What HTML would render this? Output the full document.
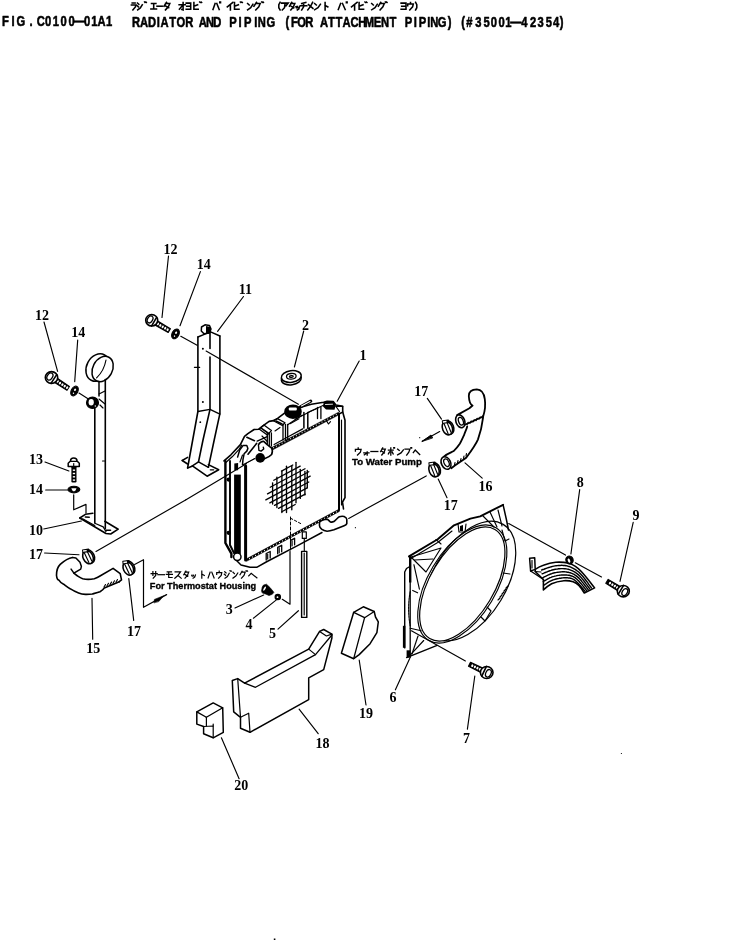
<!DOCTYPE html>
<html><head><meta charset="utf-8"><style>
html,body{margin:0;padding:0;background:#fff;}
body{width:733px;height:940px;overflow:hidden;position:relative;}
svg{position:absolute;left:0;top:0;filter:grayscale(1);}
.lab{font-family:"Liberation Serif",serif;font-weight:bold;fill:#000;stroke:none;}
.ttl{font-family:"Liberation Sans",sans-serif;font-weight:bold;fill:#000;}
.ann{font-family:"Liberation Sans",sans-serif;font-weight:bold;fill:#000;}
</style></head><body>
<svg width="733" height="940" viewBox="0 0 733 940">
<g stroke="#000" fill="none" stroke-linecap="round" stroke-linejoin="round">
<text x="6.62 16.38 26.12 38.88 51.12 60.00 69.75 79.38 89.62 99.62 108.75 118.00 126.88 136.37" y="26.0" font-size="14" text-anchor="middle" class="ttl" stroke="#000" stroke-width="0.55" transform="scale(0.8,1)">FIG.C0100—01A1</text>
<text x="170.00 180.00 190.00 198.00 205.62 216.00 226.00 236.75 253.37 262.50 271.62 291.25 300.12 309.75 319.75 327.37 338.50 359.25 368.00 377.12 386.75 405.12 414.38 423.50 433.12 443.12 452.75 461.88 471.75 481.38 491.00 510.62 519.00 528.25 535.88 542.88 552.75 561.88 578.75 586.75 598.00 608.25 617.25 627.00 635.50 644.87 655.62 666.38 675.75 686.12 695.00 702.12" y="26.9" font-size="14" text-anchor="middle" class="ttl" stroke="#000" stroke-width="0.55" transform="scale(0.8,1)">RADIATORANDPIPING(FORATTACHMENTPIPING)(#35001—42354)</text>
<text x="42.0" y="320.2" font-size="14.0" text-anchor="middle" class="lab">12</text>
<text x="78.2" y="337.2" font-size="14.0" text-anchor="middle" class="lab">14</text>
<text x="170.5" y="254.3" font-size="14.0" text-anchor="middle" class="lab">12</text>
<text x="203.7" y="269.1" font-size="14.0" text-anchor="middle" class="lab">14</text>
<text x="245.3" y="294.2" font-size="14.0" text-anchor="middle" class="lab">11</text>
<text x="305.5" y="329.8" font-size="14.0" text-anchor="middle" class="lab">2</text>
<text x="362.9" y="359.8" font-size="14.0" text-anchor="middle" class="lab">1</text>
<text x="36.0" y="463.8" font-size="14.0" text-anchor="middle" class="lab">13</text>
<text x="36.0" y="494.2" font-size="14.0" text-anchor="middle" class="lab">14</text>
<text x="36.0" y="534.7" font-size="14.0" text-anchor="middle" class="lab">10</text>
<text x="36.0" y="559.0" font-size="14.0" text-anchor="middle" class="lab">17</text>
<text x="93.2" y="653.3" font-size="14.0" text-anchor="middle" class="lab">15</text>
<text x="134.0" y="636.2" font-size="14.0" text-anchor="middle" class="lab">17</text>
<text x="229.2" y="614.3" font-size="14.0" text-anchor="middle" class="lab">3</text>
<text x="248.9" y="629.3" font-size="14.0" text-anchor="middle" class="lab">4</text>
<text x="272.6" y="637.5" font-size="14.0" text-anchor="middle" class="lab">5</text>
<text x="421.3" y="396.4" font-size="14.0" text-anchor="middle" class="lab">17</text>
<text x="450.8" y="509.9" font-size="14.0" text-anchor="middle" class="lab">17</text>
<text x="485.5" y="490.8" font-size="14.0" text-anchor="middle" class="lab">16</text>
<text x="580.2" y="486.6" font-size="14.0" text-anchor="middle" class="lab">8</text>
<text x="635.9" y="520.4" font-size="14.0" text-anchor="middle" class="lab">9</text>
<text x="392.9" y="701.5" font-size="14.0" text-anchor="middle" class="lab">6</text>
<text x="466.4" y="743.2" font-size="14.0" text-anchor="middle" class="lab">7</text>
<text x="366.0" y="717.5" font-size="14.0" text-anchor="middle" class="lab">19</text>
<text x="322.4" y="747.5" font-size="14.0" text-anchor="middle" class="lab">18</text>
<text x="241.2" y="789.8" font-size="14.0" text-anchor="middle" class="lab">20</text>
<line x1="44.0" y1="322.0" x2="57.6" y2="371.3" stroke-width="1.15"/>
<line x1="77.7" y1="340.0" x2="74.7" y2="381.6" stroke-width="1.15"/>
<line x1="168.5" y1="256.0" x2="162.0" y2="317.5" stroke-width="1.15"/>
<line x1="200.4" y1="271.6" x2="180.0" y2="325.7" stroke-width="1.15"/>
<line x1="243.5" y1="296.5" x2="217.6" y2="331.4" stroke-width="1.15"/>
<line x1="303.7" y1="331.0" x2="294.4" y2="367.0" stroke-width="1.15"/>
<line x1="359.2" y1="361.0" x2="337.2" y2="401.2" stroke-width="1.15"/>
<line x1="45.0" y1="462.0" x2="68.9" y2="471.0" stroke-width="1.15"/>
<line x1="45.7" y1="490.0" x2="67.5" y2="490.0" stroke-width="1.15"/>
<line x1="43.7" y1="529.0" x2="81.4" y2="521.0" stroke-width="1.15"/>
<line x1="44.6" y1="553.0" x2="79.0" y2="554.7" stroke-width="1.15"/>
<line x1="92.0" y1="598.3" x2="92.7" y2="639.2" stroke-width="1.15"/>
<line x1="128.8" y1="578.6" x2="133.7" y2="620.4" stroke-width="1.15"/>
<line x1="235.0" y1="608.0" x2="263.7" y2="595.0" stroke-width="1.15"/>
<line x1="253.4" y1="618.2" x2="277.3" y2="599.1" stroke-width="1.15"/>
<line x1="278.0" y1="629.1" x2="298.4" y2="610.7" stroke-width="1.15"/>
<line x1="427.3" y1="398.4" x2="441.5" y2="419.1" stroke-width="1.15"/>
<line x1="438.2" y1="479.1" x2="447.0" y2="497.7" stroke-width="1.15"/>
<line x1="465.0" y1="462.9" x2="482.2" y2="478.1" stroke-width="1.15"/>
<line x1="579.7" y1="489.6" x2="570.9" y2="554.0" stroke-width="1.15"/>
<line x1="633.2" y1="522.4" x2="620.0" y2="581.3" stroke-width="1.15"/>
<line x1="409.7" y1="658.6" x2="395.4" y2="689.8" stroke-width="1.15"/>
<line x1="474.8" y1="676.0" x2="467.4" y2="729.1" stroke-width="1.15"/>
<line x1="359.2" y1="660.0" x2="366.0" y2="705.0" stroke-width="1.15"/>
<line x1="299.1" y1="709.1" x2="318.2" y2="733.7" stroke-width="1.15"/>
<line x1="221.4" y1="737.8" x2="239.1" y2="778.7" stroke-width="1.15"/>
<line x1="79.0" y1="393.0" x2="88.0" y2="398.7" stroke-width="1.15"/>
<line x1="180.8" y1="336.3" x2="197.1" y2="345.3" stroke-width="1.15"/>
<line x1="206.1" y1="351.0" x2="298.4" y2="404.2" stroke-width="1.15"/>
<line x1="96.0" y1="551.4" x2="185.6" y2="500.0" stroke-width="1.15"/>
<line x1="185.6" y1="500.0" x2="255.1" y2="458.6" stroke-width="1.15"/>
<line x1="134.6" y1="564.5" x2="143.5" y2="559.8" stroke-width="1.15"/>
<line x1="426.2" y1="475.9" x2="348.7" y2="518.4" stroke-width="1.15"/>
<line x1="465.4" y1="661.0" x2="411.4" y2="630.8" stroke-width="1.15"/>
<line x1="508.7" y1="523.5" x2="565.5" y2="555.1" stroke-width="1.15"/>
<line x1="575.3" y1="562.8" x2="601.5" y2="577.0" stroke-width="1.15"/>
<polyline points="143.5,560.0 143.5,607.3 166.6,594.6" stroke-width="1.2" fill="none"/>
<polygon points="154,602.6 154.4,599.4 163.8,595.7 159,601.3" fill="#000" stroke="#000" stroke-width="0.6"/>
<line x1="439.7" y1="431.6" x2="422.2" y2="441.3" stroke-width="1.15"/>
<polygon points="422.2,441.3 431,435 432.5,437.6" fill="#000" stroke="#000" stroke-width="0.9"/>
<circle cx="419.7" cy="437.7" r="0.6" fill="#000" stroke="none"/>
<circle cx="621.4" cy="753.5" r="0.6" fill="#000" stroke="none"/>
<rect x="273.8" y="938.5" width="1.6" height="1.5" fill="#000" stroke="none"/>
<text x="149.8" y="588.6" font-size="9.6" class="ann" stroke="#000" stroke-width="0.35" textLength="106.4" lengthAdjust="spacingAndGlyphs">For Thermostat Housing</text>
<text x="352" y="465" font-size="9.6" class="ann" stroke="#000" stroke-width="0.35" textLength="69.9" lengthAdjust="spacingAndGlyphs">To Water Pump</text>
<ellipse cx="97.9" cy="367.6" rx="11.3" ry="14.3" transform="rotate(28 97.9 367.6)" stroke-width="1.5" fill="#fff"/>
<ellipse cx="102.6" cy="369.0" rx="9.8" ry="13.3" transform="rotate(28 102.6 369.0)" stroke-width="1.5" fill="#fff"/>
<path d="M106,360 Q104,371 96.6,377.8" stroke-width="1.15" fill="none" />
<line x1="99.0" y1="381.5" x2="99.0" y2="396.0" stroke-width="1.5"/>
<line x1="105.3" y1="379.5" x2="105.3" y2="528.5" stroke-width="1.6"/>
<line x1="94.8" y1="405.0" x2="94.8" y2="522.7" stroke-width="1.6"/>
<line x1="102.5" y1="461.0" x2="104.5" y2="461.0" stroke-width="1.15"/>
<polyline points="99.0,394.0 105.0,391.0" stroke-width="1.15" fill="none"/>
<polyline points="99.0,399.0 105.0,404.0" stroke-width="1.15" fill="none"/>
<line x1="100.0" y1="405.0" x2="103.0" y2="408.0" stroke-width="1.15"/>
<ellipse cx="92.5" cy="402.8" rx="6.0" ry="5.7" transform="rotate(0 92.5 402.8)" stroke-width="1.15" fill="#000"/>
<ellipse cx="91.2" cy="402.2" rx="2.6" ry="3.3" transform="rotate(0 91.2 402.2)" stroke-width="0" fill="#fff"/>
<circle cx="95.3" cy="406" r="0.7" fill="#fff" stroke="none"/>
<polyline points="79.8,518.0 85.4,514.3 92.9,513.3" stroke-width="1.5" fill="none"/>
<polyline points="104.8,521.3 118.2,529.2 110.7,534.0 106.0,533.5 79.8,518.0" stroke-width="1.6" fill="none"/>
<polyline points="82.6,518.8 94.8,525.5" stroke-width="1.15" fill="none"/>
<polyline points="94.8,523.2 103.2,526.9 106.0,531.6" stroke-width="1.2" fill="none"/>
<line x1="85.4" y1="517.0" x2="89.2" y2="517.3" stroke-width="1.6"/>
<line x1="106.0" y1="530.2" x2="110.5" y2="530.2" stroke-width="1.6"/>
<polyline points="73.7,494.8 73.7,509.8 86.0,504.4 86.0,513.0" stroke-width="1.2" fill="none"/>
<polygon points="52.7,381.3 67.0,390.3 69.4,386.5 55.5,377.1" stroke-width="1.15" fill="#000"/>
<ellipse cx="57.7" cy="381.5" rx="1.05" ry="1.4" transform="rotate(33 57.7 381.5)" fill="#fff" stroke="none"/>
<ellipse cx="60.0" cy="383.1" rx="1.05" ry="1.4" transform="rotate(33 60.0 383.1)" fill="#fff" stroke="none"/>
<ellipse cx="62.4" cy="384.6" rx="1.05" ry="1.4" transform="rotate(33 62.4 384.6)" fill="#fff" stroke="none"/>
<ellipse cx="64.7" cy="386.1" rx="1.05" ry="1.4" transform="rotate(33 64.7 386.1)" fill="#fff" stroke="none"/>
<ellipse cx="67.1" cy="387.7" rx="1.05" ry="1.4" transform="rotate(33 67.1 387.7)" fill="#fff" stroke="none"/>
<ellipse cx="51.5" cy="377.5" rx="6.2" ry="5.9" transform="rotate(0 51.5 377.5)" stroke-width="1.6" fill="#fff"/>
<ellipse cx="49.9" cy="376.5" rx="2.6" ry="3.8" transform="rotate(33 49.9 376.5)" fill="none" stroke="#000" stroke-width="1.3"/>
<path d="M51.0,383.4 L56.7,374.6" stroke="#000" stroke-width="1.6"/>
<ellipse cx="74.5" cy="391.0" rx="3.3" ry="5.2" transform="rotate(28 74.5 391.0)" stroke-width="1.15" fill="#000"/>
<ellipse cx="75.1" cy="389.8" rx="1.0" ry="1.3" transform="rotate(28 75.1 389.8)" stroke-width="0" fill="#fff"/>
<ellipse cx="73.5" cy="393.2" rx="0.7" ry="0.8" transform="rotate(28 73.5 393.2)" stroke-width="0" fill="#fff"/>
<rect x="71.4" y="466" width="5.1" height="16.4" rx="1.2" fill="#000" stroke="none"/>
<rect x="72.8" y="469.5" width="2.3" height="1.4" fill="#fff" stroke="none"/>
<rect x="72.8" y="472.8" width="2.3" height="1.4" fill="#fff" stroke="none"/>
<rect x="72.8" y="476.1" width="2.3" height="1.4" fill="#fff" stroke="none"/>
<rect x="72.8" y="479.4" width="2.3" height="1.4" fill="#fff" stroke="none"/>
<path d="M68.2,466.6 L68.2,463.2 L70.5,461 C70.5,458.5 72,458 73.7,458 C75.5,458 77,458.5 77,461 L79.3,463.2 L79.3,466.6 Z" stroke-width="1.5" fill="#fff" />
<line x1="70.5" y1="461.3" x2="77.0" y2="461.3" stroke-width="1.15"/>
<line x1="73.7" y1="463.5" x2="73.7" y2="466.0" stroke-width="1.15"/>
<ellipse cx="73.9" cy="489.5" rx="5.9" ry="3.3" transform="rotate(0 73.9 489.5)" stroke-width="1.15" fill="#000"/>
<path d="M71.3,488.3 L76.5,488.3 L75.5,490.5 L73.9,491.5 L72.3,490.5 Z" fill="#fff" stroke="none"/>
<ellipse cx="89.3" cy="556.5" rx="4.9" ry="7.0" transform="rotate(-25 89.3 556.5)" stroke-width="1.5" fill="#fff"/>
<ellipse cx="88.0" cy="557.1" rx="4.9" ry="7.0" transform="rotate(-25 88.0 557.1)" stroke-width="1.6" fill="#fff"/>
<line x1="84.4" y1="552.9" x2="88.9" y2="562.5" stroke-width="1.15"/>
<line x1="87.3" y1="551.6" x2="91.8" y2="561.1" stroke-width="1.15"/>
<rect x="82.1" y="549.0" width="7.2" height="3.6" rx="0.6" transform="rotate(-7.5 85.7 550.8)" fill="#000" stroke="none"/>
<rect x="83.1" y="550.0" width="3.6" height="1.5" transform="rotate(-7.5 85.7 550.8)" fill="#fff" stroke="none"/>
<path d="M72.5,557.5 C69,558 64,561 60.2,564.4 C57.5,567 56.5,571 56.5,575.3 C56.8,578 58,580 58.9,580.1 C60,582 62,583.5 63.6,584.2 C66,586 68,587.8 70.5,588.9 C73,590.5 76,592 78.6,593 C81,594 83,594.3 85.5,594.4 C88,594.5 90,594.3 92.3,594 C96,593 98,592.5 100,591.7 C103,590 104,588.5 104.3,587.9 L119.3,581.7" stroke-width="1.6" fill="none" />
<path d="M72.5,557.5 L75.9,557.9 L80,562.3 L81.4,566.4 L80.7,569.1 L77.3,571.2 L73.9,573.2 L71.1,569.1" stroke-width="1.5" fill="none" />
<path d="M73.9,573.2 C75.5,574.5 77,575.8 78.6,576.6 C80,577.5 81.5,578.3 82.7,578.7 C85,579.3 86.5,579.4 88.2,579.4 C90.5,579.3 92.5,579 94.3,578.7 C96.5,578 98.5,577 100,576 L113.1,568.4 L120.2,573.7 L121.5,579.9 L119.3,581.7" stroke-width="1.6" fill="none" />
<path d="M104,587 l1.5,-2.5 M107,585.8 l1.5,-2.5 M110,584.6 l1.5,-2.5 M113,583.3 l1.5,-2.5 M116,582 l1.5,-2.5" stroke-width="1.15" fill="none" />
<ellipse cx="129.6" cy="567.8" rx="4.9" ry="7.0" transform="rotate(-25 129.6 567.8)" stroke-width="1.5" fill="#fff"/>
<ellipse cx="128.3" cy="568.4" rx="4.9" ry="7.0" transform="rotate(-25 128.3 568.4)" stroke-width="1.6" fill="#fff"/>
<line x1="124.7" y1="564.2" x2="129.2" y2="573.8" stroke-width="1.15"/>
<line x1="127.6" y1="562.9" x2="132.1" y2="572.4" stroke-width="1.15"/>
<rect x="122.4" y="560.3" width="7.2" height="3.6" rx="0.6" transform="rotate(-7.5 126.0 562.1)" fill="#000" stroke="none"/>
<rect x="123.4" y="561.3" width="3.6" height="1.5" transform="rotate(-7.5 126.0 562.1)" fill="#fff" stroke="none"/>
<polyline points="197.9,337.0 197.9,411.5 192.7,440.0 187.6,468.0" stroke-width="1.6" fill="none"/>
<polyline points="210.0,330.0 210.0,348.5" stroke-width="1.6" fill="none"/>
<polyline points="210.0,357.0 210.0,409.4 203.0,440.0 198.5,461.8" stroke-width="1.6" fill="none"/>
<polyline points="219.9,336.0 219.9,413.6 214.2,440.0 208.4,467.3" stroke-width="1.6" fill="none"/>
<polyline points="197.9,337.0 205.5,333.8 210.0,332.2" stroke-width="1.4" fill="none"/>
<polyline points="210.0,331.7 219.9,336.0" stroke-width="1.4" fill="none"/>
<polyline points="197.9,411.5 210.0,409.4 219.9,414.1" stroke-width="1.3" fill="none"/>
<circle cx="202.9" cy="348.7" r="1" fill="#000" stroke="none"/>
<circle cx="202.9" cy="401.9" r="1" fill="#000" stroke="none"/>
<circle cx="200.3" cy="422.2" r="0.9" fill="#000" stroke="none"/>
<line x1="194.4" y1="367.3" x2="199.7" y2="367.3" stroke-width="1.2"/>
<polyline points="192.4,465.9 198.5,461.8 208.4,467.3" stroke-width="1.5" fill="none"/>
<polyline points="208.4,464.6 218.7,469.7 207.1,476.2 192.4,465.9" stroke-width="1.6" fill="none"/>
<polyline points="182.2,460.5 187.6,457.4" stroke-width="1.5" fill="none"/>
<polyline points="182.2,460.5 187.6,464.0" stroke-width="1.5" fill="none"/>
<polyline points="187.6,468.0 192.0,466.3" stroke-width="1.5" fill="none"/>
<line x1="210.3" y1="469.8" x2="213.7" y2="469.8" stroke-width="1.3"/>
<polygon points="201.5,327 205,324.8 209.5,325.5 211,329 209.5,333 204,333.8 201.3,331" fill="#fff" stroke-width="1.5"/>
<path d="M206,326 L210.5,327 L211,331 L208,334 L206,333 Z" fill="#000" stroke="none"/>
<polygon points="153.0,324.0 168.2,332.5 170.4,328.7 155.6,319.7" stroke-width="1.15" fill="#000"/>
<ellipse cx="157.9" cy="323.9" rx="1.05" ry="1.4" transform="rotate(30 157.9 323.9)" fill="#fff" stroke="none"/>
<ellipse cx="160.3" cy="325.4" rx="1.05" ry="1.4" transform="rotate(30 160.3 325.4)" fill="#fff" stroke="none"/>
<ellipse cx="162.7" cy="326.8" rx="1.05" ry="1.4" transform="rotate(30 162.7 326.8)" fill="#fff" stroke="none"/>
<ellipse cx="165.2" cy="328.2" rx="1.05" ry="1.4" transform="rotate(30 165.2 328.2)" fill="#fff" stroke="none"/>
<ellipse cx="167.6" cy="329.6" rx="1.05" ry="1.4" transform="rotate(30 167.6 329.6)" fill="#fff" stroke="none"/>
<ellipse cx="151.7" cy="320.3" rx="6.0" ry="5.7" transform="rotate(0 151.7 320.3)" stroke-width="1.6" fill="#fff"/>
<ellipse cx="150.1" cy="319.4" rx="2.5" ry="3.7" transform="rotate(30 150.1 319.4)" fill="none" stroke="#000" stroke-width="1.3"/>
<path d="M151.5,326.1 L156.6,317.3" stroke="#000" stroke-width="1.6"/>
<ellipse cx="175.5" cy="333.9" rx="3.4" ry="5.2" transform="rotate(28 175.5 333.9)" stroke-width="1.15" fill="#000"/>
<ellipse cx="176.1" cy="332.7" rx="1.0" ry="1.3" transform="rotate(28 176.1 332.7)" stroke-width="0" fill="#fff"/>
<ellipse cx="174.5" cy="336.1" rx="0.7" ry="0.8" transform="rotate(28 174.5 336.1)" stroke-width="0" fill="#fff"/>
<polygon points="247.0,463.0 339.0,414.0 339.0,509.5 247.0,558.5" stroke-width="0" fill="#fff"/>
<polyline points="225.4,461.1 225.4,543.0 231.4,553.7 231.4,557.0" stroke-width="2.4" fill="none"/>
<polyline points="230.0,461.0 230.0,545.0 234.0,553.0" stroke-width="1.9" fill="none"/>
<rect x="234.1" y="474.6" width="6.7" height="81" fill="#000" stroke="none"/>
<line x1="245.6" y1="466.0" x2="245.6" y2="560.0" stroke-width="3.0"/>
<circle cx="228.6" cy="479.6" r="2.1" fill="#000" stroke="none"/>
<circle cx="228.6" cy="532.8" r="2.1" fill="#000" stroke="none"/>
<ellipse cx="237.3" cy="556.8" rx="3.7" ry="3.7" transform="rotate(0 237.3 556.8)" stroke-width="1.5" fill="#fff"/>
<polyline points="224.0,460.9 230.9,454.8 240.4,444.6 244.5,436.4 247.9,433.6 254.1,429.5 258.8,429.2 263.9,425.1 269.1,421.4 273.6,420.6 277.6,418.4 284.2,413.3 289.1,411.6" stroke-width="1.6" fill="none"/>
<polyline points="300.0,407.5 311.4,404.3 323.6,402.2 327.1,401.2 333.2,401.5 335.9,405.0 342.7,406.3 342.7,412.1 339.0,414.0" stroke-width="1.6" fill="none"/>
<path d="M262,452.6 L338.5,412.2 L339,414.8 L262.5,455.3 Z" fill="#000" stroke="#000" stroke-width="0.5"/>
<rect x="264.5" y="451.7" width="1" height="1" fill="#fff" stroke="none"/>
<rect x="267.4" y="450.2" width="1" height="1" fill="#fff" stroke="none"/>
<rect x="270.2" y="448.7" width="1" height="1" fill="#fff" stroke="none"/>
<rect x="273.1" y="447.2" width="1" height="1" fill="#fff" stroke="none"/>
<rect x="275.9" y="445.7" width="1" height="1" fill="#fff" stroke="none"/>
<rect x="278.8" y="444.2" width="1" height="1" fill="#fff" stroke="none"/>
<rect x="281.6" y="442.7" width="1" height="1" fill="#fff" stroke="none"/>
<rect x="284.4" y="441.2" width="1" height="1" fill="#fff" stroke="none"/>
<rect x="287.3" y="439.7" width="1" height="1" fill="#fff" stroke="none"/>
<rect x="290.1" y="438.2" width="1" height="1" fill="#fff" stroke="none"/>
<rect x="293.0" y="436.7" width="1" height="1" fill="#fff" stroke="none"/>
<rect x="295.9" y="435.2" width="1" height="1" fill="#fff" stroke="none"/>
<rect x="298.7" y="433.7" width="1" height="1" fill="#fff" stroke="none"/>
<rect x="301.6" y="432.2" width="1" height="1" fill="#fff" stroke="none"/>
<rect x="304.4" y="430.7" width="1" height="1" fill="#fff" stroke="none"/>
<rect x="307.2" y="429.2" width="1" height="1" fill="#fff" stroke="none"/>
<rect x="310.1" y="427.7" width="1" height="1" fill="#fff" stroke="none"/>
<rect x="312.9" y="426.1" width="1" height="1" fill="#fff" stroke="none"/>
<rect x="315.8" y="424.6" width="1" height="1" fill="#fff" stroke="none"/>
<rect x="318.6" y="423.1" width="1" height="1" fill="#fff" stroke="none"/>
<rect x="321.5" y="421.6" width="1" height="1" fill="#fff" stroke="none"/>
<rect x="324.4" y="420.1" width="1" height="1" fill="#fff" stroke="none"/>
<rect x="327.2" y="418.6" width="1" height="1" fill="#fff" stroke="none"/>
<rect x="330.1" y="417.1" width="1" height="1" fill="#fff" stroke="none"/>
<rect x="332.9" y="415.6" width="1" height="1" fill="#fff" stroke="none"/>
<rect x="335.8" y="414.1" width="1" height="1" fill="#fff" stroke="none"/>
<polyline points="274.1,444.6 287.7,437.0 302.7,428.9" stroke-width="1.2" fill="none"/>
<polyline points="287.7,424.8 302.0,415.2" stroke-width="1.2" fill="none"/>
<line x1="290.5" y1="423.6" x2="299.0" y2="418.8" stroke-width="1.15"/>
<polyline points="295.0,419.3 304.5,414.5" stroke-width="1.15" fill="none"/>
<polyline points="304.5,414.5 311.0,411.0 323.0,405.5 333.0,404.0" stroke-width="1.15" fill="none"/>
<polyline points="259.1,428.9 263.9,425.1 271.4,430.6 267.3,435.0 259.1,428.9" stroke-width="1.3" fill="none"/>
<line x1="261.5" y1="428.4" x2="268.0" y2="433.0" stroke-width="1.6"/>
<line x1="267.3" y1="433.0" x2="267.3" y2="446.0" stroke-width="1.3"/>
<line x1="269.3" y1="433.0" x2="269.3" y2="446.0" stroke-width="1.3"/>
<line x1="271.4" y1="433.0" x2="271.4" y2="446.0" stroke-width="1.3"/>
<line x1="262.0" y1="436.0" x2="267.3" y2="441.5" stroke-width="1.15"/>
<polyline points="273.4,420.7 277.5,418.6 285.0,422.7 282.3,425.5 273.4,420.7" stroke-width="1.3" fill="none"/>
<line x1="276.0" y1="421.0" x2="282.0" y2="424.0" stroke-width="1.6"/>
<line x1="283.0" y1="424.5" x2="283.0" y2="440.0" stroke-width="1.3"/>
<line x1="285.5" y1="424.5" x2="285.5" y2="440.0" stroke-width="1.3"/>
<line x1="287.7" y1="424.5" x2="287.7" y2="440.0" stroke-width="1.3"/>
<line x1="275.0" y1="431.0" x2="280.0" y2="427.5" stroke-width="1.15"/>
<line x1="303.9" y1="412.5" x2="303.9" y2="428.0" stroke-width="1.5"/>
<line x1="307.8" y1="412.5" x2="307.8" y2="428.0" stroke-width="1.5"/>
<line x1="317.5" y1="407.5" x2="317.5" y2="418.5" stroke-width="1.3"/>
<line x1="320.9" y1="407.5" x2="320.9" y2="418.5" stroke-width="1.3"/>
<line x1="308.0" y1="412.5" x2="318.0" y2="408.0" stroke-width="1.15"/>
<polyline points="326.4,420.6 328.5,424.0 330.5,421.6" stroke-width="1.15" fill="none"/>
<polyline points="226.1,462.3 232.2,456.8 239.1,449.3 241.8,445.2" stroke-width="1.2" fill="none"/>
<path d="M237.6,457.1 L239.7,450 L243,445.6 L246.8,445.6 L247.9,448.4 L246.8,451.1 L244.1,453.8 L243,459.3 L242.5,464.7" stroke-width="1.5" fill="none" />
<line x1="240.0" y1="462.0" x2="242.5" y2="455.0" stroke-width="1.15"/>
<path d="M246.8,437.2 L254.5,440.7" stroke-width="1.5" fill="none" />
<path d="M248,454.2 L256.7,443.3" stroke-width="1.6" fill="none" />
<path d="M257.2,441.1 L267.2,436.7" stroke-width="1.4" fill="none" />
<path d="M258.5,444.8 C259.5,442.5 261,441.5 263.7,441.3 L267.2,444.6 L271.6,448.1 C272.7,450 272.7,452 271.6,454.6 C270,456.5 268,457.5 265,458.5 L262,459.5" stroke-width="1.6" fill="#fff" />
<path d="M258.5,445.5 L258.9,450.3 L261.1,451.1 L263.7,449 L263.3,447.2" stroke-width="1.4" fill="none" />
<ellipse cx="260.2" cy="457.9" rx="4.8" ry="4.9" fill="#000" stroke="none"/>
<line x1="259.2" y1="454.8" x2="261.3" y2="457.5" stroke-width="1.15"/>
<line x1="243.0" y1="464.7" x2="254.5" y2="458.7" stroke-width="1.2"/>
<path d="M234.3,463.5 L238.1,463.1 L238.1,470.2 L234.3,470.2 Z" fill="#000" stroke="none"/>
<ellipse cx="293" cy="411.7" rx="8.8" ry="7.2" fill="#000" stroke="none"/>
<rect x="288.8" y="407.6" width="8" height="3" rx="1" fill="#fff" stroke="none"/>
<line x1="286.8" y1="409.0" x2="287.2" y2="411.0" stroke-width="1.15"/>
<path d="M300.5,406.8 L310.7,401.2" stroke-width="3.2" fill="none" />
<path d="M301.5,406 L310,401.6" stroke="#fff" stroke-width="1.1"/>
<path d="M323.6,402.2 L327.1,401 L333.2,401.3 L335.9,405 L334.5,409.7 L326,409.5 L323,406.5 Z" fill="#000" stroke="none"/>
<path d="M325.5,404.5 L332.5,404.2" stroke-width="0.9" fill="none" stroke="#fff"/>
<polyline points="335.9,406.3 342.7,406.3" stroke-width="1.3" fill="none"/>
<polyline points="336.0,406.5 339.5,411.5" stroke-width="1.15" fill="none"/>
<line x1="339.0" y1="413.5" x2="339.0" y2="510.0" stroke-width="2.0"/>
<line x1="341.5" y1="420.0" x2="341.5" y2="505.0" stroke-width="1.15"/>
<path d="M342.7,412 L345,420.3 L345,497.7 L342.5,502 L343.5,509" stroke-width="1.6" fill="none" />
<path d="M246.6,558.8 L339,509.2 L339.3,511.5 L246.9,561.1 Z" fill="#000" stroke="#000" stroke-width="0.6"/>
<rect x="249.0" y="558.1" width="1" height="1" fill="#fff" stroke="none"/>
<rect x="252.0" y="556.5" width="1" height="1" fill="#fff" stroke="none"/>
<rect x="255.0" y="554.9" width="1" height="1" fill="#fff" stroke="none"/>
<rect x="258.0" y="553.3" width="1" height="1" fill="#fff" stroke="none"/>
<rect x="261.0" y="551.7" width="1" height="1" fill="#fff" stroke="none"/>
<rect x="264.0" y="550.1" width="1" height="1" fill="#fff" stroke="none"/>
<rect x="267.0" y="548.4" width="1" height="1" fill="#fff" stroke="none"/>
<rect x="270.0" y="546.8" width="1" height="1" fill="#fff" stroke="none"/>
<rect x="273.0" y="545.2" width="1" height="1" fill="#fff" stroke="none"/>
<rect x="276.0" y="543.6" width="1" height="1" fill="#fff" stroke="none"/>
<rect x="279.0" y="542.0" width="1" height="1" fill="#fff" stroke="none"/>
<rect x="282.0" y="540.4" width="1" height="1" fill="#fff" stroke="none"/>
<rect x="285.0" y="538.8" width="1" height="1" fill="#fff" stroke="none"/>
<rect x="288.0" y="537.2" width="1" height="1" fill="#fff" stroke="none"/>
<rect x="291.0" y="535.6" width="1" height="1" fill="#fff" stroke="none"/>
<rect x="294.0" y="533.9" width="1" height="1" fill="#fff" stroke="none"/>
<rect x="297.0" y="532.3" width="1" height="1" fill="#fff" stroke="none"/>
<rect x="300.0" y="530.7" width="1" height="1" fill="#fff" stroke="none"/>
<rect x="303.0" y="529.1" width="1" height="1" fill="#fff" stroke="none"/>
<rect x="306.0" y="527.5" width="1" height="1" fill="#fff" stroke="none"/>
<rect x="309.0" y="525.9" width="1" height="1" fill="#fff" stroke="none"/>
<rect x="312.0" y="524.3" width="1" height="1" fill="#fff" stroke="none"/>
<rect x="315.0" y="522.7" width="1" height="1" fill="#fff" stroke="none"/>
<rect x="318.0" y="521.1" width="1" height="1" fill="#fff" stroke="none"/>
<rect x="321.0" y="519.4" width="1" height="1" fill="#fff" stroke="none"/>
<rect x="324.0" y="517.8" width="1" height="1" fill="#fff" stroke="none"/>
<rect x="327.0" y="516.2" width="1" height="1" fill="#fff" stroke="none"/>
<rect x="330.0" y="514.6" width="1" height="1" fill="#fff" stroke="none"/>
<rect x="333.0" y="513.0" width="1" height="1" fill="#fff" stroke="none"/>
<rect x="336.0" y="511.4" width="1" height="1" fill="#fff" stroke="none"/>
<polyline points="237.0,561.0 241.0,565.0 250.0,567.3 256.7,567.3 266.2,562.0 298.0,545.3 322.0,532.5" stroke-width="1.5" fill="none"/>
<polyline points="266.2,560.0 266.2,553.5 270.2,551.5 270.2,558.0" stroke-width="1.3" fill="none"/>
<line x1="267.7" y1="554.0" x2="267.7" y2="559.0" stroke-width="1.15"/>
<polyline points="277.7,553.8 277.7,547.3 281.7,545.3 281.7,551.8" stroke-width="1.3" fill="none"/>
<line x1="279.2" y1="547.8" x2="279.2" y2="552.8" stroke-width="1.15"/>
<polyline points="290.6,546.8 290.6,540.3 294.6,538.3 294.6,544.8" stroke-width="1.3" fill="none"/>
<line x1="292.1" y1="540.8" x2="292.1" y2="545.8" stroke-width="1.15"/>
<path d="M319.5,522.3 C320.5,521 321.5,520.5 322.3,520.2 C324,519.5 325.5,519.2 327.1,519.2 C328.5,519.5 329.5,521.5 330.5,522 C331.5,522.3 333,522 333.9,521.6 C336,520 337.5,517.8 339.3,516.8 C341,516.2 342.8,516.2 344.1,516.5 C345.8,517.3 346.8,518.5 346.8,519.6 L346.8,523.6 C346.3,524.8 345.3,525.3 344.1,525.7 L333.9,529.8 C331.5,530.6 329.3,531.2 327.1,531.2 C325,531 323,530.2 321.6,529.1 C320.3,528 319.5,527 319.5,525.7 Z" stroke-width="1.6" fill="#fff" />
<circle cx="355.4" cy="527.7" r="0.6" fill="#000" stroke="none"/>
<line x1="272.6" y1="482.8" x2="272.6" y2="504.1" stroke-width="1.35"/>
<line x1="276.9" y1="477.1" x2="276.9" y2="507.6" stroke-width="1.35"/>
<line x1="281.9" y1="471.1" x2="281.9" y2="512.6" stroke-width="1.35"/>
<line x1="286.5" y1="466.2" x2="286.5" y2="512.6" stroke-width="1.35"/>
<line x1="291.8" y1="466.2" x2="291.8" y2="509.8" stroke-width="1.35"/>
<line x1="296.0" y1="462.3" x2="296.0" y2="502.7" stroke-width="1.35"/>
<line x1="300.3" y1="469.3" x2="300.3" y2="498.4" stroke-width="1.35"/>
<line x1="304.9" y1="471.5" x2="304.9" y2="494.9" stroke-width="1.35"/>
<line x1="307.3" y1="470.4" x2="307.3" y2="487.8" stroke-width="1.35"/>
<line x1="281.5" y1="471.1" x2="292.8" y2="465.0" stroke-width="1.3"/>
<line x1="273.8" y1="480.3" x2="300.2" y2="466.1" stroke-width="1.3"/>
<line x1="270.2" y1="487.3" x2="305.0" y2="468.7" stroke-width="1.3"/>
<line x1="267.5" y1="493.9" x2="308.8" y2="471.8" stroke-width="1.3"/>
<line x1="265.8" y1="499.9" x2="310.2" y2="476.1" stroke-width="1.3"/>
<line x1="269.8" y1="502.9" x2="308.8" y2="482.0" stroke-width="1.3"/>
<line x1="274.5" y1="505.4" x2="307.2" y2="487.9" stroke-width="1.3"/>
<line x1="278.5" y1="508.4" x2="305.2" y2="494.1" stroke-width="1.3"/>
<line x1="281.8" y1="511.7" x2="295.2" y2="504.5" stroke-width="1.3"/>
<path d="M290.5,517 L290.5,551" stroke-dasharray="3,2" stroke-width="1"/>
<path d="M290.5,518.2 L302.3,524.4" stroke-dasharray="2.5,2" stroke-width="1"/>
<rect x="302.3" y="531.9" width="4" height="6.5" fill="#fff" stroke-width="1.2"/>
<line x1="304.3" y1="538.4" x2="304.3" y2="551.0" stroke-width="1.15"/>
<rect x="301.6" y="551.4" width="5.2" height="66" fill="#fff" stroke-width="1.4"/>
<line x1="304.2" y1="553.0" x2="304.2" y2="615.0" stroke-width="1.15"/>
<polyline points="282.3,599.3 290.0,604.2 290.0,551.4" stroke-width="1.2" fill="none"/>
<path d="M261.5,591 L262.2,587 L263.5,585 L266.5,584.2 L270,587.5 L273.9,592.3 L272.3,594.3 L269,595.6 L266,594.2 L262.5,593 Z" fill="#000" stroke="#000" stroke-width="0.6"/>
<ellipse cx="264.6" cy="588.6" rx="0.9" ry="2.4" transform="rotate(30 264.6 588.6)" fill="#fff" stroke="none"/>
<ellipse cx="277.8" cy="597.0" rx="2.7" ry="2.6" transform="rotate(0 277.8 597.0)" stroke-width="1.15" fill="#000"/>
<circle cx="277.5" cy="597.2" r="0.9" fill="#fff" stroke="none"/>
<ellipse cx="291.3" cy="379.0" rx="10.0" ry="5.8" transform="rotate(-8 291.3 379.0)" stroke-width="1.5" fill="#fff"/>
<ellipse cx="291.3" cy="376.5" rx="10.0" ry="5.8" transform="rotate(-8 291.3 376.5)" stroke-width="1.5" fill="#fff"/>
<ellipse cx="291.3" cy="376.3" rx="4.8" ry="2.8" transform="rotate(-5 291.3 376.3)" stroke-width="1.3" fill="none"/>
<ellipse cx="291.3" cy="376.5" rx="2.0" ry="0.9" transform="rotate(-5 291.3 376.5)" stroke-width="1.15" fill="none"/>
<ellipse cx="448.7" cy="427.6" rx="4.9" ry="7.0" transform="rotate(-22 448.7 427.6)" stroke-width="1.5" fill="#fff"/>
<ellipse cx="447.4" cy="428.1" rx="4.9" ry="7.0" transform="rotate(-22 447.4 428.1)" stroke-width="1.6" fill="#fff"/>
<line x1="444.1" y1="423.7" x2="448.1" y2="433.6" stroke-width="1.15"/>
<line x1="447.1" y1="422.6" x2="451.0" y2="432.3" stroke-width="1.15"/>
<rect x="441.9" y="419.9" width="7.2" height="3.6" rx="0.6" transform="rotate(-6.6 445.5 421.7)" fill="#000" stroke="none"/>
<rect x="442.9" y="420.9" width="3.6" height="1.5" transform="rotate(-6.6 445.5 421.7)" fill="#fff" stroke="none"/>
<ellipse cx="435.3" cy="469.6" rx="4.9" ry="7.0" transform="rotate(-22 435.3 469.6)" stroke-width="1.5" fill="#fff"/>
<ellipse cx="434.0" cy="470.1" rx="4.9" ry="7.0" transform="rotate(-22 434.0 470.1)" stroke-width="1.6" fill="#fff"/>
<line x1="430.7" y1="465.7" x2="434.7" y2="475.6" stroke-width="1.15"/>
<line x1="433.7" y1="464.6" x2="437.6" y2="474.3" stroke-width="1.15"/>
<rect x="428.5" y="461.9" width="7.2" height="3.6" rx="0.6" transform="rotate(-6.6 432.1 463.7)" fill="#000" stroke="none"/>
<rect x="429.5" y="462.9" width="3.6" height="1.5" transform="rotate(-6.6 432.1 463.7)" fill="#fff" stroke="none"/>
<path d="M457.1,415.1 L469.4,408.2 L472.6,405.5 C470,404.5 469,400 468.8,396 C468.8,392 471,389.5 476.8,389.4 C481,389.6 484,393 484.8,399.1 C485.5,404 485.3,409.8 483.2,416.2 C482.5,422 482.1,427.9 477.9,439.6 C476,444 472.6,449.1 466.2,457.7 C462,461 456.6,464 451.3,468.3" stroke-width="1.8" fill="none" />
<path d="M443.8,456.6 C447,454 451,452.5 453.4,451.3 C456,449 458,446.5 459.8,443.8 C461.5,441 463,437 464,435.3 C465,432 466.5,429.5 467.2,426.5" stroke-width="1.8" fill="none" />
<path d="M465.1,424.7 C470,422.5 478,419 483.2,416.2" stroke-width="1.7" fill="none" />
<path d="M467,424.5 l1.2,-2.2 M470,423.2 l1.2,-2.2 M473,421.9 l1.2,-2.2 M476,420.6 l1.2,-2.2 M479,419.2 l1.2,-2.2 M482,417.8 l1.2,-2.2" stroke-width="1.2" fill="none" />
<path d="M454.5,465 l0.5,-2.5 M457.5,463 l0.5,-2.5 M460.5,461 l0.5,-2.5 M463.5,458.5 l0.5,-2.5 M466,456 l0.5,-2.5" stroke-width="1.2" fill="none" />
<ellipse cx="460.3" cy="421.3" rx="4.4" ry="6.6" transform="rotate(-20 460.3 421.3)" stroke-width="1.6" fill="#fff"/>
<ellipse cx="460.9" cy="421.2" rx="2.3" ry="4.0" transform="rotate(-20 460.9 421.2)" stroke-width="1.3" fill="#fff"/>
<ellipse cx="446.0" cy="463.0" rx="4.6" ry="6.6" transform="rotate(-25 446.0 463.0)" stroke-width="1.6" fill="#fff"/>
<ellipse cx="446.5" cy="462.8" rx="2.4" ry="4.0" transform="rotate(-25 446.5 462.8)" stroke-width="1.3" fill="#fff"/>
<polyline points="409.0,556.4 437.7,539.2 454.0,525.3 470.4,518.7 480.2,516.3 503.1,504.8" stroke-width="1.9" fill="none"/>
<polyline points="411.0,558.5 437.7,542.5 452.0,531.0" stroke-width="1.15" fill="none"/>
<polyline points="503.1,504.8 506.5,520.0 508.5,530.0" stroke-width="1.5" fill="none"/>
<polyline points="404.7,647.9 404.7,572.0 406.5,568.5 409.0,567.0" stroke-width="1.4" fill="none"/>
<line x1="410.2" y1="556.0" x2="410.2" y2="657.6" stroke-width="1.3"/>
<rect x="409" y="556.5" width="2.4" height="26" fill="#000" stroke="none"/>
<rect x="402.9" y="625.8" width="2.5" height="22" fill="#000" stroke="none"/>
<rect x="406.6" y="650.3" width="3.8" height="7.3" fill="#000" stroke="none"/>
<path d="M410.2,591.6 Q407,608.7 410.2,625.8" stroke-width="1.15" fill="none" stroke-dasharray="2,1"/>
<polyline points="406.6,657.6 437.1,645.4" stroke-width="1.4" fill="none"/>
<polyline points="410.2,655.2 423.7,640.5" stroke-width="1.15" fill="none"/>
<polyline points="410.2,628.3 421.2,630.7" stroke-width="1.15" fill="none"/>
<polyline points="412.0,654.0 418.0,636.0" stroke-width="1.15" fill="none"/>
<polyline points="411.0,557.0 441.0,548.0 426.0,572.0 411.0,557.0" stroke-width="1.15" fill="none"/>
<polyline points="414.5,560.0 433.0,559.0" stroke-width="1.15" fill="none"/>
<polyline points="413.9,564.7 419.4,589.1" stroke-width="1.15" fill="none"/>
<line x1="412.7" y1="590.4" x2="417.6" y2="592.8" stroke-width="1.15"/>
<line x1="436.0" y1="539.5" x2="441.0" y2="544.0" stroke-width="1.15"/>
<polyline points="483.0,516.0 494.0,527.0" stroke-width="1.15" fill="none"/>
<polyline points="490.0,512.0 497.0,527.0" stroke-width="1.15" fill="none"/>
<polyline points="498.0,510.0 502.0,526.0" stroke-width="1.15" fill="none"/>
<polyline points="458.0,524.0 459.0,532.0 465.0,532.0 466.0,524.0" stroke-width="1.15" fill="none"/>
<path d="M460,526 L463,525 L463,531 L460,531 Z" fill="#000" stroke="none"/>
<ellipse cx="469.3" cy="581.0" rx="66.0" ry="37.0" transform="rotate(-59.1 469.3 581.0)" stroke-width="1.2" fill="none"/>
<ellipse cx="462.3" cy="584.0" rx="65.6" ry="34.0" transform="rotate(-59.1 462.3 584.0)" stroke-width="1.15" fill="none"/>
<ellipse cx="462.3" cy="584.0" rx="63.5" ry="32.0" transform="rotate(-59.1 462.3 584.0)" stroke-width="1.2" fill="#fff"/>
<polyline points="502.0,530.0 505.0,541.0 509.0,539.0" stroke-width="1.15" fill="none"/>
<polyline points="503.0,573.0 510.0,574.0" stroke-width="1.15" fill="none"/>
<polyline points="481.0,617.0 485.0,621.0 491.0,611.0 487.0,607.0" stroke-width="1.15" fill="none"/>
<path d="M498,600 l2,-2 M500,597 l2,-2 M502,594 l2,-2 M504,591 l2,-2 M506,588 l2,-2" stroke-width="1.15" fill="none" />
<polygon points="484.9,668.9 470.5,662.3 468.5,666.3 482.8,673.4" stroke-width="1.15" fill="#000"/>
<ellipse cx="479.9" cy="669.3" rx="1.05" ry="1.4" transform="rotate(-155 479.9 669.3)" fill="#fff" stroke="none"/>
<ellipse cx="477.4" cy="668.1" rx="1.05" ry="1.4" transform="rotate(-155 477.4 668.1)" fill="#fff" stroke="none"/>
<ellipse cx="474.9" cy="666.9" rx="1.05" ry="1.4" transform="rotate(-155 474.9 666.9)" fill="#fff" stroke="none"/>
<ellipse cx="472.3" cy="665.7" rx="1.05" ry="1.4" transform="rotate(-155 472.3 665.7)" fill="#fff" stroke="none"/>
<ellipse cx="486.7" cy="672.5" rx="6.3" ry="6.0" transform="rotate(0 486.7 672.5)" stroke-width="1.6" fill="#fff"/>
<ellipse cx="488.4" cy="673.3" rx="2.6" ry="3.9" transform="rotate(-155 488.4 673.3)" fill="none" stroke="#000" stroke-width="1.3"/>
<path d="M486.4,666.4 L481.8,676.1" stroke="#000" stroke-width="1.6"/>
<path d="M535.2,569.4 C538,567.5 540,566.3 543.4,565.3 C547,564 551,562.8 555.7,562.3 C560,561.9 565,562.4 569,563.3 C574,565 578,568 581.3,571.5 C586,576.5 590,582 594.6,587.9 L584.3,593 C582,589 581,587.5 579.2,585.8 C577,583.5 575,582.3 573.1,581.7 C570,580.8 567,580.5 563.9,580.7 C559,581.2 555,582.2 551.6,583.8 C548,585.8 545.5,588 543.4,589.9 L543.4,579.5 L535.2,571.5 Z" stroke-width="1.6" fill="#fff" />
<path d="M541.6,570.0 L542.2,569.8 L543.0,569.5 L544.0,569.2 L545.1,568.8 L546.2,568.4 L547.5,567.9 L548.8,567.5 L550.1,567.1 L551.4,566.7 L552.6,566.4 L553.9,566.1 L555.0,565.9 L556.1,565.7 L557.2,565.6 L558.4,565.5 L559.5,565.4 L560.6,565.4 L561.7,565.3 L562.8,565.4 L563.9,565.4 L565.0,565.5 L566.0,565.7 L567.1,565.9 L568.1,566.2 L569.2,566.5 L570.2,566.9 L571.2,567.3 L572.2,567.8 L573.2,568.3 L574.1,568.8 L575.1,569.4 L576.1,570.1 L577.0,570.8 L578.0,571.5 L579.0,572.3 L579.9,573.2 L580.9,574.2 L582.0,575.4 L583.1,576.7 L584.2,578.1 L585.3,579.5 L586.4,581.0 L587.5,582.4 L588.5,583.8 L589.4,585.1 L590.2,586.2 L590.9,587.1 L591.4,587.9" stroke="#000" stroke-width="1.45" fill="none"/>
<path d="M542.2,573.8 L542.8,573.6 L543.5,573.3 L544.3,572.9 L545.3,572.5 L546.3,572.1 L547.4,571.7 L548.6,571.2 L549.8,570.8 L551.0,570.4 L552.1,570.0 L553.3,569.7 L554.3,569.5 L555.4,569.3 L556.5,569.1 L557.6,569.0 L558.7,568.8 L559.8,568.7 L560.9,568.6 L562.0,568.6 L563.1,568.6 L564.2,568.7 L565.2,568.8 L566.3,568.9 L567.3,569.1 L568.3,569.3 L569.3,569.6 L570.2,569.9 L571.2,570.3 L572.1,570.7 L573.0,571.1 L574.0,571.6 L574.9,572.1 L575.8,572.7 L576.7,573.4 L577.6,574.1 L578.6,574.9 L579.5,575.8 L580.6,576.9 L581.6,578.1 L582.7,579.4 L583.8,580.8 L584.9,582.2 L585.9,583.6 L586.9,584.9 L587.8,586.1 L588.6,587.2 L589.3,588.1 L589.8,588.8" stroke="#000" stroke-width="1.45" fill="none"/>
<path d="M542.8,577.6 L543.3,577.4 L543.9,577.1 L544.7,576.7 L545.5,576.3 L546.4,575.8 L547.4,575.4 L548.4,574.9 L549.5,574.5 L550.5,574.0 L551.6,573.7 L552.6,573.3 L553.7,573.0 L554.7,572.8 L555.7,572.6 L556.8,572.4 L557.9,572.2 L559.0,572.1 L560.1,572.0 L561.2,571.9 L562.3,571.8 L563.3,571.8 L564.4,571.8 L565.4,571.9 L566.5,572.0 L567.4,572.2 L568.4,572.3 L569.3,572.6 L570.2,572.8 L571.1,573.1 L571.9,573.4 L572.8,573.8 L573.7,574.2 L574.5,574.7 L575.4,575.3 L576.3,575.9 L577.2,576.6 L578.1,577.4 L579.2,578.4 L580.2,579.6 L581.3,580.8 L582.3,582.1 L583.4,583.4 L584.4,584.7 L585.4,586.0 L586.3,587.1 L587.0,588.1 L587.7,589.0 L588.2,589.6" stroke="#000" stroke-width="1.45" fill="none"/>
<path d="M543.3,581.4 L543.8,581.2 L544.3,580.8 L545.0,580.5 L545.7,580.1 L546.5,579.6 L547.4,579.1 L548.3,578.6 L549.2,578.2 L550.1,577.7 L551.1,577.3 L552.0,576.9 L553.0,576.6 L553.9,576.4 L554.9,576.1 L556.0,575.9 L557.0,575.6 L558.1,575.4 L559.2,575.3 L560.4,575.1 L561.5,575.0 L562.5,574.9 L563.6,574.9 L564.6,574.9 L565.6,574.9 L566.5,575.0 L567.4,575.1 L568.3,575.2 L569.2,575.3 L570.0,575.5 L570.8,575.7 L571.6,576.0 L572.5,576.3 L573.3,576.7 L574.1,577.2 L575.0,577.7 L575.8,578.3 L576.7,579.0 L577.7,580.0 L578.8,581.0 L579.8,582.2 L580.9,583.4 L581.9,584.6 L582.9,585.9 L583.8,587.0 L584.7,588.1 L585.5,589.1 L586.1,589.9 L586.7,590.5" stroke="#000" stroke-width="1.45" fill="none"/>
<path d="M543.9,585.2 L544.3,585.0 L544.8,584.6 L545.3,584.2 L545.9,583.8 L546.6,583.3 L547.3,582.9 L548.1,582.4 L548.9,581.9 L549.7,581.4 L550.6,581.0 L551.4,580.6 L552.3,580.2 L553.2,579.9 L554.2,579.6 L555.2,579.3 L556.2,579.0 L557.3,578.8 L558.4,578.6 L559.5,578.3 L560.6,578.2 L561.7,578.0 L562.8,577.9 L563.8,577.8 L564.8,577.8 L565.7,577.8 L566.5,577.8 L567.4,577.8 L568.2,577.9 L568.9,577.9 L569.7,578.0 L570.5,578.2 L571.3,578.4 L572.0,578.7 L572.8,579.0 L573.6,579.5 L574.5,580.0 L575.4,580.7 L576.3,581.5 L577.3,582.5 L578.3,583.5 L579.4,584.7 L580.4,585.8 L581.4,587.0 L582.3,588.1 L583.2,589.1 L583.9,590.1 L584.6,590.8 L585.1,591.4" stroke="#000" stroke-width="1.45" fill="none"/>
<path d="M529.6,558.2 L534.7,557.7 L535.2,569.4 L530.6,571 Z" stroke-width="1.5" fill="#fff" />
<line x1="532.0" y1="560.5" x2="532.0" y2="568.0" stroke-width="1.15"/>
<polyline points="530.6,571.0 535.2,574.0 543.4,579.5" stroke-width="1.4" fill="none"/>
<polyline points="535.2,571.5 541.0,572.0" stroke-width="1.15" fill="none"/>
<ellipse cx="569.5" cy="560.0" rx="3.6" ry="4.0" transform="rotate(-20 569.5 560.0)" stroke-width="1.2" fill="#000"/>
<ellipse cx="569.0" cy="560.6" rx="1.2" ry="2.2" transform="rotate(-20 569.0 560.6)" stroke-width="0" fill="#fff"/>
<polygon points="622.0,587.5 608.2,579.4 605.8,583.2 619.4,591.8" stroke-width="1.15" fill="#000"/>
<ellipse cx="617.1" cy="587.5" rx="1.05" ry="1.4" transform="rotate(-149 617.1 587.5)" fill="#fff" stroke="none"/>
<ellipse cx="614.8" cy="586.0" rx="1.05" ry="1.4" transform="rotate(-149 614.8 586.0)" fill="#fff" stroke="none"/>
<ellipse cx="612.4" cy="584.6" rx="1.05" ry="1.4" transform="rotate(-149 612.4 584.6)" fill="#fff" stroke="none"/>
<ellipse cx="610.0" cy="583.1" rx="1.05" ry="1.4" transform="rotate(-149 610.0 583.1)" fill="#fff" stroke="none"/>
<ellipse cx="623.3" cy="591.2" rx="6.0" ry="5.7" transform="rotate(0 623.3 591.2)" stroke-width="1.6" fill="#fff"/>
<ellipse cx="624.8" cy="592.1" rx="2.5" ry="3.7" transform="rotate(-149 624.8 592.1)" fill="none" stroke="#000" stroke-width="1.3"/>
<path d="M623.6,585.4 L618.3,594.2" stroke="#000" stroke-width="1.6"/>
<path d="M341.4,653.2 L353.7,612.3 L363.3,606.8 L374.2,611.5 L375.5,617 L378.3,621.8 L376.9,632.7 L370.1,643.7 L359.2,654.6 L353.7,658.7 Z" stroke-width="1.5" fill="#fff" />
<polyline points="353.7,612.3 364.6,617.7 374.2,611.5" stroke-width="1.3" fill="none"/>
<polyline points="364.6,617.7 353.7,658.7" stroke-width="1.3" fill="none"/>
<path d="M232.3,680.5 L237.7,678.6 L244.6,683.2 L308.7,649.1 L319.6,631.4 L323.7,629.5 L331.9,634.1 L331.9,638 L323.7,669.6 L308.7,677.8 L308.7,699.6 L250,732.3 L240.5,728.2 L240.5,717.3 L233.7,711.9 Z" stroke-width="1.5" fill="#fff" />
<polyline points="244.6,683.2 255.5,687.3 315.5,654.6 331.9,635.0" stroke-width="1.3" fill="none"/>
<polyline points="308.7,649.1 315.5,654.6" stroke-width="1.2" fill="none"/>
<polyline points="319.6,631.4 326.4,636.0 331.9,634.1" stroke-width="1.2" fill="none"/>
<polyline points="237.7,678.6 240.5,717.3" stroke-width="1.2" fill="none"/>
<polyline points="240.5,717.3 248.7,713.2 250.0,732.3" stroke-width="1.2" fill="none"/>
<path d="M196.8,711.9 L213.2,702.9 L222.7,707.8 L223.3,732.3 L213.2,737.8 L203.6,733.7 L203.6,726.5 L196.8,724.1 Z" stroke-width="1.5" fill="#fff" />
<polyline points="196.8,711.9 206.4,717.3 222.7,707.8" stroke-width="1.3" fill="none"/>
<polyline points="206.4,717.3 206.4,726.0" stroke-width="1.2" fill="none"/>
<polyline points="203.6,726.5 213.2,726.0 213.2,737.8" stroke-width="1.2" fill="none"/>
<polyline points="213.2,726.0 213.2,724.0" stroke-width="1.2" fill="none"/>
<path d="M132.2,3.0 L135.1,3.0 M131.4,5.0 L135.9,5.0 L135.4,6.9 L132.9,9.9" stroke-width="1.55" stroke-linecap="square" stroke-linejoin="miter"/>
<path d="M137.4,3.0 L138.8,4.3 M136.9,5.5 L138.4,6.8 M137.7,9.9 L140.3,8.0 L142.3,4.7" stroke-width="1.55" stroke-linecap="square" stroke-linejoin="miter"/>
<path d="M144.5,1.9 L145.0,2.5 M145.9,1.9 L146.4,2.5" stroke-width="1.395" stroke-linecap="square" stroke-linejoin="miter"/>
<path d="M151.5,3.5 L155.9,3.5 M153.7,3.5 L153.7,9.0 M150.9,9.0 L156.5,9.0" stroke-width="1.55" stroke-linecap="square" stroke-linejoin="miter"/>
<path d="M157.0,6.2 L162.2,6.2" stroke-width="1.55" stroke-linecap="square" stroke-linejoin="miter"/>
<path d="M166.5,2.4 L164.0,6.2 M165.5,3.5 L169.8,3.5 L168.3,6.9 L165.5,9.9 M165.1,5.8 L168.7,7.7" stroke-width="1.55" stroke-linecap="square" stroke-linejoin="miter"/>
<path d="M179.1,4.7 L185.2,4.7 M183.1,2.4 L183.1,9.9 L181.8,9.5 M182.8,5.0 L179.4,9.2" stroke-width="1.55" stroke-linecap="square" stroke-linejoin="miter"/>
<path d="M186.2,3.1 L190.7,3.1 L190.7,9.2 L186.2,9.2 M186.7,6.2 L190.7,6.2" stroke-width="1.55" stroke-linecap="square" stroke-linejoin="miter"/>
<path d="M193.9,2.4 L193.9,9.2 L198.2,9.2 M193.9,6.2 L197.6,4.7" stroke-width="1.55" stroke-linecap="square" stroke-linejoin="miter"/>
<path d="M199.6,1.9 L200.2,2.5 M201.1,1.9 L201.7,2.5" stroke-width="1.395" stroke-linecap="square" stroke-linejoin="miter"/>
<path d="M215.1,3.5 L213.0,9.5 M216.8,3.5 L219.2,9.5" stroke-width="1.55" stroke-linecap="square" stroke-linejoin="miter"/>
<path d="M219.7,1.9 L220.6,1.9 L220.6,2.7 L219.7,2.7 L219.7,1.9" stroke-width="1.395" stroke-linecap="square" stroke-linejoin="miter"/>
<path d="M232.9,2.4 L227.3,6.9 M230.4,4.7 L230.4,9.9" stroke-width="1.55" stroke-linecap="square" stroke-linejoin="miter"/>
<path d="M234.5,2.4 L234.5,9.2 L239.0,9.2 M234.5,6.2 L238.4,4.7" stroke-width="1.55" stroke-linecap="square" stroke-linejoin="miter"/>
<path d="M240.3,1.9 L240.9,2.5 M241.8,1.9 L242.4,2.5" stroke-width="1.395" stroke-linecap="square" stroke-linejoin="miter"/>
<path d="M247.6,3.5 L249.2,5.0 M247.6,9.8 L250.7,7.7 L252.9,4.3" stroke-width="1.55" stroke-linecap="square" stroke-linejoin="miter"/>
<path d="M256.5,2.4 L253.9,6.2 M255.8,3.5 L260.2,3.5 L258.8,6.9 L255.8,9.9" stroke-width="1.55" stroke-linecap="square" stroke-linejoin="miter"/>
<path d="M261.7,1.9 L262.2,2.5 M263.0,1.9 L263.5,2.5" stroke-width="1.395" stroke-linecap="square" stroke-linejoin="miter"/>
<path d="M280.1,2.4 L278.8,4.7 L278.8,7.7 L280.1,9.9" stroke-width="1.55" stroke-linecap="square" stroke-linejoin="miter"/>
<path d="M281.6,3.1 L288.2,3.1 L286.0,5.8 M284.9,4.7 L284.5,7.7 L282.3,9.9" stroke-width="1.55" stroke-linecap="square" stroke-linejoin="miter"/>
<path d="M291.8,2.4 L289.5,6.2 M290.8,3.5 L294.8,3.5 L293.4,6.9 L290.8,9.9 M290.5,5.8 L293.8,7.7" stroke-width="1.55" stroke-linecap="square" stroke-linejoin="miter"/>
<path d="M296.0,6.8 L296.4,7.8 M297.3,6.5 L297.7,7.5 M299.5,6.5 L298.8,8.9 L297.3,9.9" stroke-width="1.55" stroke-linecap="square" stroke-linejoin="miter"/>
<path d="M305.8,2.4 L301.7,3.5 M300.4,5.8 L306.8,5.8 M303.6,3.1 L303.6,6.9 L301.7,9.9" stroke-width="1.55" stroke-linecap="square" stroke-linejoin="miter"/>
<path d="M312.6,2.4 L310.4,6.5 L307.8,9.9 M308.5,4.7 L312.9,8.4" stroke-width="1.55" stroke-linecap="square" stroke-linejoin="miter"/>
<path d="M314.6,3.5 L316.3,5.0 M314.6,9.8 L318.0,7.7 L320.4,4.3" stroke-width="1.55" stroke-linecap="square" stroke-linejoin="miter"/>
<path d="M325.1,2.4 L325.1,9.9 M325.1,5.4 L327.8,6.9" stroke-width="1.55" stroke-linecap="square" stroke-linejoin="miter"/>
<path d="M340.6,3.5 L338.3,9.5 M342.5,3.5 L345.2,9.5" stroke-width="1.55" stroke-linecap="square" stroke-linejoin="miter"/>
<path d="M346.3,1.9 L347.2,1.9 L347.2,2.7 L346.3,2.7 L346.3,1.9" stroke-width="1.395" stroke-linecap="square" stroke-linejoin="miter"/>
<path d="M357.1,2.4 L351.5,6.9 M354.6,4.7 L354.6,9.9" stroke-width="1.55" stroke-linecap="square" stroke-linejoin="miter"/>
<path d="M359.1,2.4 L359.1,9.2 L363.6,9.2 M359.1,6.2 L363.0,4.7" stroke-width="1.55" stroke-linecap="square" stroke-linejoin="miter"/>
<path d="M364.9,1.9 L365.5,2.5 M366.4,1.9 L367.0,2.5" stroke-width="1.395" stroke-linecap="square" stroke-linejoin="miter"/>
<path d="M371.7,3.5 L373.3,5.0 M371.7,9.8 L375.0,7.7 L377.3,4.3" stroke-width="1.55" stroke-linecap="square" stroke-linejoin="miter"/>
<path d="M380.8,2.4 L378.4,6.2 M380.1,3.5 L384.3,3.5 L382.9,6.9 L380.1,9.9" stroke-width="1.55" stroke-linecap="square" stroke-linejoin="miter"/>
<path d="M385.3,1.9 L385.8,2.5 M386.6,1.9 L387.1,2.5" stroke-width="1.395" stroke-linecap="square" stroke-linejoin="miter"/>
<path d="M401.1,3.1 L406.0,3.1 L406.0,9.2 L401.1,9.2 M401.7,6.2 L406.0,6.2" stroke-width="1.55" stroke-linecap="square" stroke-linejoin="miter"/>
<path d="M410.5,2.4 L410.5,3.9 M407.7,5.8 L407.7,3.9 L413.3,3.9 L412.6,6.9 L409.8,9.9" stroke-width="1.55" stroke-linecap="square" stroke-linejoin="miter"/>
<path d="M415.6,2.4 L416.8,4.7 L416.8,7.7 L415.6,9.9" stroke-width="1.55" stroke-linecap="square" stroke-linejoin="miter"/>
<path d="M358.2,448.0 L358.2,449.4 M355.4,451.1 L355.4,449.4 L361.1,449.4 L360.4,452.2 L357.5,455.0" stroke-width="1.3" stroke-linecap="square" stroke-linejoin="miter"/>
<path d="M363.8,452.8 L369.0,452.8 M367.2,451.8 L367.2,455.0 M366.9,453.0 L364.3,454.8" stroke-width="1.3" stroke-linecap="square" stroke-linejoin="miter"/>
<path d="M370.9,451.5 L377.8,451.5" stroke-width="1.3" stroke-linecap="square" stroke-linejoin="miter"/>
<path d="M382.7,448.0 L380.6,451.5 M381.8,449.1 L385.3,449.1 L384.1,452.2 L381.8,455.0 M381.5,451.1 L384.4,452.9" stroke-width="1.3" stroke-linecap="square" stroke-linejoin="miter"/>
<path d="M388.4,450.1 L393.2,450.1 M390.8,448.0 L390.8,455.0 M389.5,451.9 L388.4,453.9 M392.1,451.9 L393.2,453.9" stroke-width="1.3" stroke-linecap="square" stroke-linejoin="miter"/>
<path d="M393.7,447.5 L394.6,447.5 L394.6,448.2 L393.7,448.2 L393.7,447.5" stroke-width="1.1700000000000002" stroke-linecap="square" stroke-linejoin="miter"/>
<path d="M397.6,449.1 L399.3,450.4 M397.6,454.9 L401.0,452.9 L403.4,449.8" stroke-width="1.3" stroke-linecap="square" stroke-linejoin="miter"/>
<path d="M405.0,449.1 L409.9,449.1 L408.8,452.2 L406.7,455.0" stroke-width="1.3" stroke-linecap="square" stroke-linejoin="miter"/>
<path d="M410.8,447.5 L411.7,447.5 L411.7,448.2 L410.8,448.2 L410.8,447.5" stroke-width="1.1700000000000002" stroke-linecap="square" stroke-linejoin="miter"/>
<path d="M413.3,452.6 L415.2,450.1 L419.7,454.6" stroke-width="1.3" stroke-linecap="square" stroke-linejoin="miter"/>
<path d="M151.1,573.7 L157.2,573.7 M152.9,571.6 L152.9,575.4 M155.7,571.6 L155.7,575.4 L153.2,578.2" stroke-width="1.2" stroke-linecap="square" stroke-linejoin="miter"/>
<path d="M157.9,574.7 L164.4,574.7" stroke-width="1.2" stroke-linecap="square" stroke-linejoin="miter"/>
<path d="M167.2,571.9 L171.5,571.9 M166.3,574.4 L172.4,574.4 M168.7,571.9 L168.7,577.5 L172.1,577.5" stroke-width="1.2" stroke-linecap="square" stroke-linejoin="miter"/>
<path d="M175.1,571.9 L180.5,571.9 L177.6,575.8 L174.8,578.2 M178.0,575.4 L181.2,578.2" stroke-width="1.2" stroke-linecap="square" stroke-linejoin="miter"/>
<path d="M185.9,571.2 L183.7,574.7 M185.0,572.2 L188.7,572.2 L187.4,575.4 L185.0,578.2 M184.7,574.4 L187.8,576.1" stroke-width="1.2" stroke-linecap="square" stroke-linejoin="miter"/>
<path d="M191.7,575.3 L192.2,576.2 M193.1,575.0 L193.6,576.0 M195.4,575.0 L194.7,577.2 L193.1,578.2" stroke-width="1.2" stroke-linecap="square" stroke-linejoin="miter"/>
<path d="M201.8,571.2 L201.8,578.2 M201.8,574.0 L204.3,575.4" stroke-width="1.2" stroke-linecap="square" stroke-linejoin="miter"/>
<path d="M210.1,572.2 L208.1,577.9 M211.8,572.2 L214.1,577.9" stroke-width="1.2" stroke-linecap="square" stroke-linejoin="miter"/>
<path d="M219.2,571.2 L219.2,572.6 M216.7,574.4 L216.7,572.6 L221.8,572.6 L221.2,575.4 L218.6,578.2" stroke-width="1.2" stroke-linecap="square" stroke-linejoin="miter"/>
<path d="M224.7,571.8 L226.1,573.0 M224.3,574.1 L225.6,575.3 M225.0,578.2 L227.4,576.5 L229.2,573.3" stroke-width="1.2" stroke-linecap="square" stroke-linejoin="miter"/>
<path d="M229.8,570.7 L230.3,571.2 M230.9,570.7 L231.4,571.2" stroke-width="1.08" stroke-linecap="square" stroke-linejoin="miter"/>
<path d="M233.0,572.2 L234.4,573.7 M233.0,578.1 L235.8,576.1 L237.8,573.0" stroke-width="1.2" stroke-linecap="square" stroke-linejoin="miter"/>
<path d="M242.1,571.2 L240.0,574.7 M241.5,572.2 L245.2,572.2 L244.0,575.4 L241.5,578.2" stroke-width="1.2" stroke-linecap="square" stroke-linejoin="miter"/>
<path d="M246.0,570.7 L246.5,571.2 M247.1,570.7 L247.6,571.2" stroke-width="1.08" stroke-linecap="square" stroke-linejoin="miter"/>
<path d="M248.7,575.8 L251.2,573.3 L256.9,577.9" stroke-width="1.2" stroke-linecap="square" stroke-linejoin="miter"/>
</g>
</svg>
</body></html>
